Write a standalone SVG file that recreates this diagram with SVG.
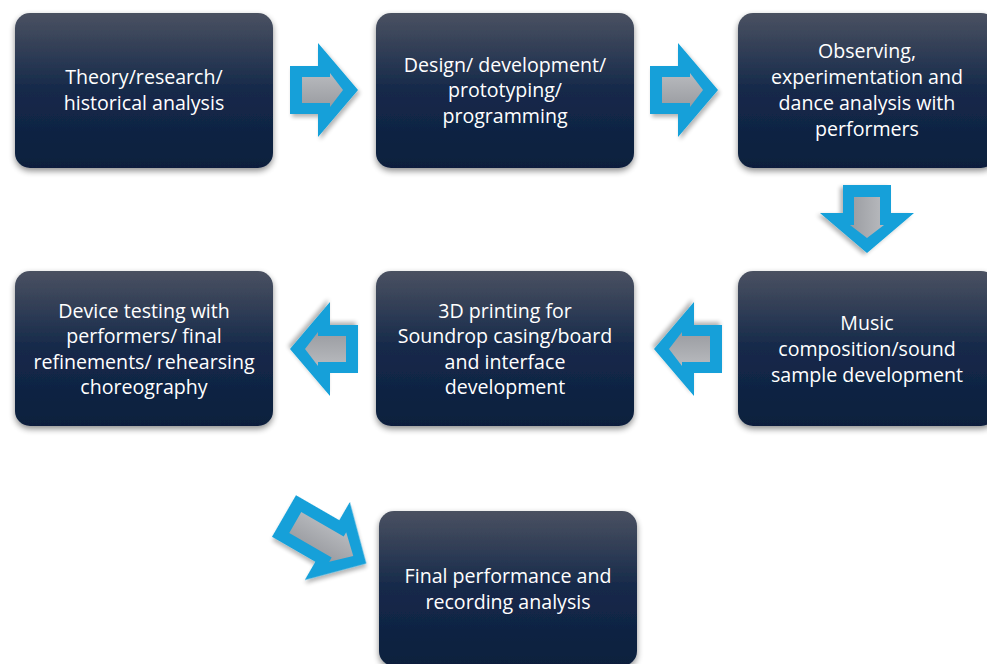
<svg xmlns="http://www.w3.org/2000/svg" width="987" height="664" viewBox="0 0 987 664">
<style>
.box{fill:url(#bg);filter:url(#sh)}
.t{font-family:"Open Sans","Noto Sans",sans-serif;font-size:19.6px;fill:#ffffff;text-anchor:middle}
.ao{fill:#12a0d9;filter:url(#ash)}
.ai{fill:url(#gg)}
</style>
<defs>
<linearGradient id="bg" x1="0" y1="0" x2="0" y2="1">
<stop offset="0" stop-color="#4a5161"/>
<stop offset="0.5" stop-color="#15294a"/>
<stop offset="1" stop-color="#0b1f3d"/>
</linearGradient>
<linearGradient id="gg" x1="0" y1="0" x2="0" y2="1">
<stop offset="0" stop-color="#b8babe"/>
<stop offset="1" stop-color="#9a9ca1"/>
</linearGradient>
<filter id="sh" x="-10%" y="-10%" width="120%" height="125%">
<feGaussianBlur in="SourceAlpha" stdDeviation="3"/>
<feOffset dy="3" result="b"/>
<feComponentTransfer><feFuncA type="linear" slope="0.45"/></feComponentTransfer>
<feMerge><feMergeNode/><feMergeNode in="SourceGraphic"/></feMerge>
</filter>
<filter id="ash" x="-20%" y="-20%" width="150%" height="150%">
<feGaussianBlur in="SourceAlpha" stdDeviation="2"/>
<feOffset dx="2" dy="3" result="b"/>
<feComponentTransfer><feFuncA type="linear" slope="0.3"/></feComponentTransfer>
<feMerge><feMergeNode/><feMergeNode in="SourceGraphic"/></feMerge>
</filter>
<g id="ar">
<path class="ao" d="M0,-24 L28,-24 L28,-47 L68,0 L28,47 L28,24 L0,24 Z"/>
<path class="ai" d="M12,-13 L40,-13 L40,-17 L53,0 L40,17 L40,13 L12,13 Z"/>
</g>
<g id="ard">
<path class="ao" d="M0,-24 L50,-24 L50,-45 L95,0 L50,45 L50,24 L0,24 Z"/>
<path class="ai" d="M13,-12 L62,-12 L62,-17 L80,0 L62,17 L62,12 L13,12 Z"/>
</g>
</defs>
<rect width="987" height="664" fill="#ffffff"/>

<g id="n1"><rect class="box" x="15" y="13" width="258" height="155" rx="15"/>
<text class="t" x="144" y="84">Theory/research/</text><text class="t" x="144" y="110">historical analysis</text></g>
<g id="n2"><rect class="box" x="376" y="13" width="258" height="155" rx="15"/>
<text class="t" x="505" y="72">Design/ development/</text><text class="t" x="505" y="97">prototyping/</text><text class="t" x="505" y="123">programming</text></g>
<g id="n3"><rect class="box" x="738" y="13" width="258" height="155" rx="15"/>
<text class="t" x="867" y="58">Observing,</text><text class="t" x="867" y="84">experimentation and</text><text class="t" x="867" y="110">dance analysis with</text><text class="t" x="867" y="136">performers</text></g>
<g id="n4"><rect class="box" x="738" y="271" width="258" height="155" rx="15"/>
<text class="t" x="867" y="330">Music</text><text class="t" x="867" y="356">composition/sound</text><text class="t" x="867" y="382">sample development</text></g>
<g id="n5"><rect class="box" x="376" y="271" width="258" height="155" rx="15"/>
<text class="t" x="505" y="318">3D printing for</text><text class="t" x="505" y="343">Soundrop casing/board</text><text class="t" x="505" y="369">and interface</text><text class="t" x="505" y="394">development</text></g>
<g id="n6"><rect class="box" x="15" y="271" width="258" height="155" rx="15"/>
<text class="t" x="144" y="318">Device testing with</text><text class="t" x="144" y="343">performers/ final</text><text class="t" x="144" y="369">refinements/ rehearsing</text><text class="t" x="144" y="394">choreography</text></g>
<g id="n7"><rect class="box" x="379" y="511" width="258" height="155" rx="15"/>
<text class="t" x="508" y="583">Final performance and</text><text class="t" x="508" y="609">recording analysis</text></g>

<g id="connectors">
<use href="#ar" transform="translate(290,90)"/>
<use href="#ar" transform="translate(650,90)"/>
<use href="#ar" transform="translate(867,185) rotate(90)"/>
<use href="#ar" transform="translate(722,349) rotate(180)"/>
<use href="#ar" transform="translate(358,349) rotate(180)"/>
<use href="#ard" transform="translate(284,516) rotate(30)"/>
</g>
</svg>
